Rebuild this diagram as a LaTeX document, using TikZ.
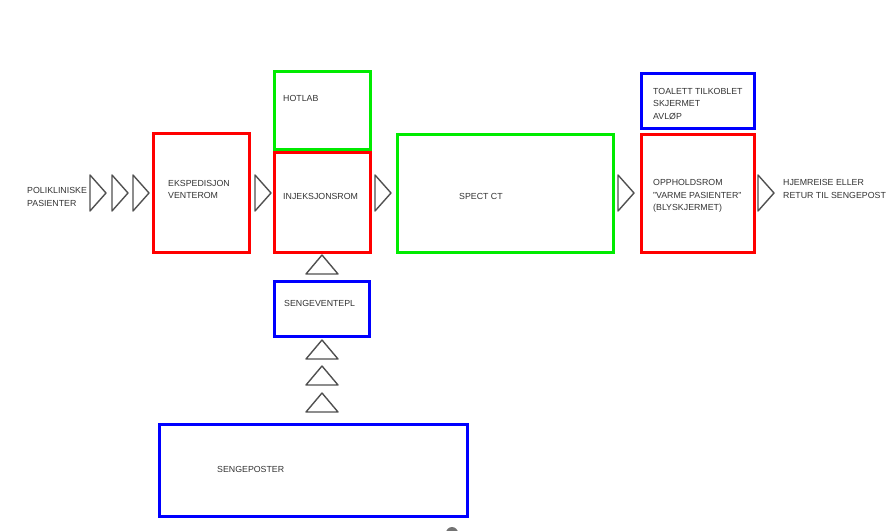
\documentclass[tikz,border=0pt]{standalone}
\usepackage{fontspec}
\setmainfont{Liberation Sans}
\usetikzlibrary{positioning}
\definecolor{roomRed}{RGB}{255,0,0}
\definecolor{roomGreen}{RGB}{0,235,0}
\definecolor{roomBlue}{RGB}{0,0,255}
\definecolor{flowGray}{RGB}{80,80,80}

\begin{document}
\begin{tikzpicture}[x=1pt,y=-1pt,
    room/.style={line width=3pt,outer sep=0pt,inner sep=0pt,anchor=north west},
    lbl/.style={anchor=west,inner sep=0pt,align=left,text=black!80,font=\fontsize{8.8}{12.5}\selectfont},
    tri/.style={draw=flowGray,line width=1.4pt,line join=round}]
    \useasboundingbox (0,0) rectangle (894,530);
    % rooms
    \node[room,draw=roomRed,minimum width=96pt,minimum height=119pt] (ekspedisjon) at (153,133) {};
    \node[room,draw=roomGreen,minimum width=96pt,minimum height=78pt] (hotlab) at (274,71) {};
    \node[room,draw=roomRed,minimum width=96pt,minimum height=100pt] (injeksjon) at (274,152) {};
    \node[room,draw=roomGreen,minimum width=216pt,minimum height=118pt] (spect) at (397,134) {};
    \node[room,draw=roomBlue,minimum width=113pt,minimum height=55pt] (toalett) at (641,73) {};
    \node[room,draw=roomRed,minimum width=113pt,minimum height=118pt] (opphold) at (641,134) {};
    \node[room,draw=roomBlue,minimum width=95pt,minimum height=55pt] (sengevent) at (274,281) {};
    \node[room,draw=roomBlue,minimum width=308pt,minimum height=92pt] (sengeposter) at (159,424) {};
    % texts
    \node[lbl] (poliklinisk) at (27,197) {POLIKLINISKE\\PASIENTER};
    \node[lbl] (ekspedisjonTxt) at (168,189.5) {EKSPEDISJON\\VENTEROM};
    \node[lbl] (hotlabTxt) at (283,98) {HOTLAB};
    \node[lbl] (injeksjonTxt) at (283,196) {INJEKSJONSROM};
    \node[lbl] (spectTxt) at (459,196) {SPECT CT};
    \node[lbl] (toalettTxt) at (653,104) {TOALETT TILKOBLET\\SKJERMET\\AVLØP};
    \node[lbl] (oppholdTxt) at (653,196) {OPPHOLDSROM\\"VARME PASIENTER"\\(BLYSKJERMET)};
    \node[lbl] (hjemreise) at (783,189) {HJEMREISE ELLER\\RETUR TIL SENGEPOST};
    \node[lbl] (sengeventTxt) at (284,303) {SENGEVENTEPL};
    \node[lbl] (sengeposterTxt) at (217,469) {SENGEPOSTER};
    % flow triangles
    \foreach \x in {90,112,133,255,375,618,758}{
      \draw[tri] (\x,175) -- (\x+16,193) -- (\x,211) -- cycle;
    }
    \foreach \y in {274,359,385,412}{
      \draw[tri] (306,\y) -- (322,\y-19) -- (338,\y) -- cycle;
    }
    \fill[black!55] (452,533) circle (6);
\end{tikzpicture}
\end{document}
